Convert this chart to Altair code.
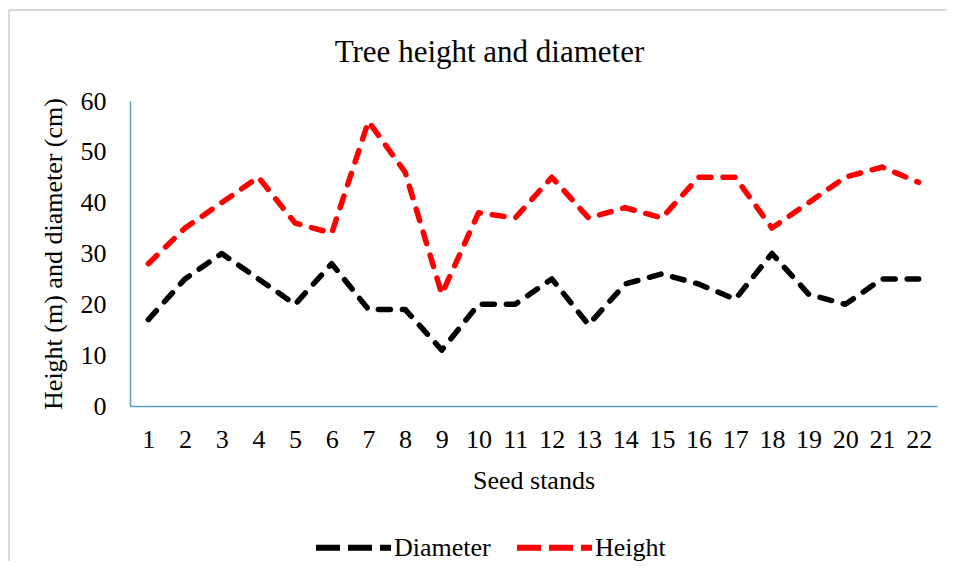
import altair as alt
import pandas as pd

stands = [str(i) for i in range(1, 23)]
diameter = [17, 25, 30, 25, 20, 28, 19, 19, 11, 20, 20, 25, 16, 24, 26, 24, 21, 30, 22, 20, 25, 25]
height = [28, 35, 40, 45, 36, 34, 56, 46, 22, 38, 37, 45, 37, 39, 37, 45, 45, 35, 40, 45, 47, 44]
series_names = ["Diameter", "Height"]
series_colors = ["#000000", "#FF0000"]
y_ticks = [0, 10, 20, 30, 40, 50, 60]

df = pd.DataFrame({
    "stand": stands + stands,
    "value": diameter + height,
    "series": [series_names[0]] * len(stands) + [series_names[1]] * len(stands),
})

FONT = "Liberation Serif"
AXIS_BLUE = "#5B9BD5"

lines = alt.Chart(df).mark_line(
    strokeDash=[12, 12], strokeCap="round", strokeJoin="round", strokeWidth=5.5
).encode(
    x=alt.X("stand:O", sort=stands, title="Seed stands",
            axis=alt.Axis(labelAngle=0, ticks=False, domainColor=AXIS_BLUE, domainWidth=1.5,
                          labelFont=FONT, labelFontSize=26, labelColor="black", labelPadding=20,
                          titleFont=FONT, titleFontSize=26, titleFontWeight="normal",
                          titleColor="black", titlePadding=15)),
    y=alt.Y("value:Q", scale=alt.Scale(domain=[0, 60]), title="Height (m) and diameter (cm)",
            axis=alt.Axis(values=y_ticks, grid=False, ticks=False, domainColor=AXIS_BLUE,
                          domainWidth=1.5, labelFont=FONT, labelFontSize=26, labelColor="black",
                          labelPadding=24, titleFont=FONT, titleFontSize=26,
                          titleFontWeight="normal", titleColor="black", titlePadding=14)),
    color=alt.Color("series:N", scale=alt.Scale(domain=series_names, range=series_colors),
                    legend=alt.Legend(title=None, orient="none", direction="horizontal",
                                      legendX=183, legendY=406, symbolType="stroke",
                                      symbolSize=5625, symbolStrokeWidth=6, symbolDash=[24, 8],
                                      labelFont=FONT, labelFontSize=26, labelColor="black",
                                      columnPadding=14, labelOffset=0, padding=0)),
)

frame_df = pd.DataFrame({"k": [0]})
frame_left = alt.Chart(frame_df).mark_rule(color="#D9D9D9", strokeWidth=2).encode(
    x=alt.value(-121), y=alt.value(-91), y2=alt.value(460)
)
frame_top = alt.Chart(frame_df).mark_rule(color="#D9D9D9", strokeWidth=2).encode(
    x=alt.value(-121), x2=alt.value(820), y=alt.value(-91)
)

chart = alt.layer(frame_left, frame_top, lines).properties(
    width=807, height=305,
    title=alt.TitleParams("Tree height and diameter", font=FONT, fontSize=31,
                          fontWeight="normal", color="black", anchor="middle", dx=-44, offset=-60),
    autosize=alt.AutoSizeParams(type="none"),
    padding={"left": 122, "top": 93, "right": 10, "bottom": 160},
).configure_view(stroke=None)

chart.save("out.html", embed_options={"renderer": "svg", "actions": False})
